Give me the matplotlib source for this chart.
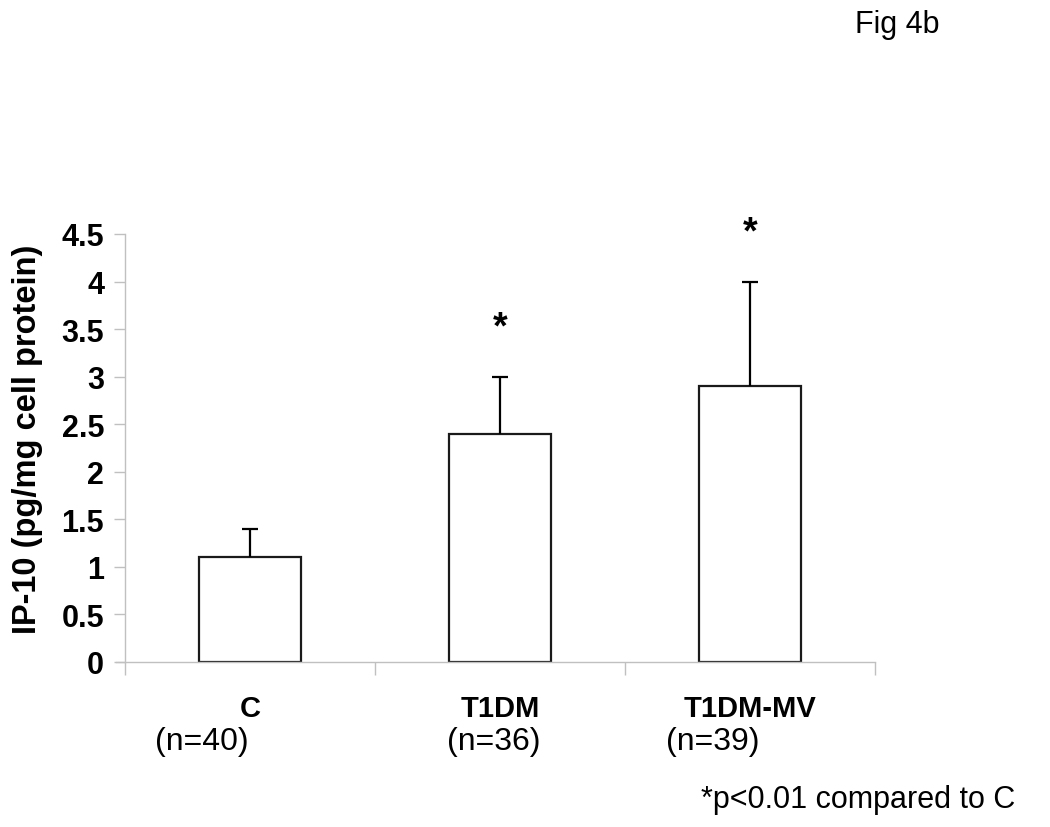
import numpy as np
import matplotlib
matplotlib.use("Agg")
import matplotlib.pyplot as plt

plt.rcParams["font.family"] = ["Liberation Sans", "DejaVu Sans"]

# data
groups = ["C", "T1DM", "T1DM-MV"]
n_labels = ["(n=40)", "(n=36)", "(n=39)"]
means = [1.1, 2.4, 2.9]
errs = [0.3, 0.6, 1.1]
signif = ["", "*", "*"]
y_ticks = [0, 0.5, 1, 1.5, 2, 2.5, 3, 3.5, 4, 4.5]

fig = plt.figure(figsize=(10.5, 8.28), dpi=100)
ax = fig.add_axes([125 / 1050, 1 - 663 / 828, 750 / 1050, 428 / 828])

x = np.arange(len(groups)) + 0.5
ax.bar(x, means, width=0.41, color="white", edgecolor="#1a1a1a", linewidth=1.6, zorder=2)
eb = ax.errorbar(x, means, yerr=[np.zeros(len(errs)), errs], fmt="none",
                 ecolor="black", elinewidth=1.6, capsize=6, capthick=1.6, zorder=3)
eb[1][0].set_visible(False)  # only the upper cap

for xi, m, e, s in zip(x, means, errs, signif):
    if s:
        ax.text(xi, m + e + 0.52, s, ha="center", va="center",
                fontsize=27, fontweight="bold", clip_on=False)

ax.set_xlim(0, 3)
ax.set_ylim(0, 4.5)
ax.set_yticks(y_ticks)
ax.set_yticklabels(["%g" % t for t in y_ticks], fontsize=22, fontweight="bold")
ax.tick_params(axis="y", length=8, width=1, color="#c0c0c0", pad=7)

ax.set_xticks([0, 1, 2, 3])
ax.set_xticklabels([])
ax.tick_params(axis="x", which="major", length=9, width=1, color="#c0c0c0")
ax.set_xticks(x, minor=True)
ax.set_xticklabels(groups, minor=True, fontsize=21, fontweight="bold")
ax.tick_params(axis="x", which="minor", length=0, pad=23)

# sample sizes under the group names
n_x = [0.308, 1.476, 2.352]
for xi, lab in zip(n_x, n_labels):
    ax.text(xi, -0.185, lab, transform=ax.get_xaxis_transform(),
            ha="center", va="center", fontsize=23)

for side in ["top", "right"]:
    ax.spines[side].set_visible(False)
for side in ["left", "bottom"]:
    ax.spines[side].set_color("#c0c0c0")
    ax.spines[side].set_linewidth(1)
ax.spines["bottom"].set_bounds(-0.035, 3)

ax.set_ylabel("IP-10 (pg/mg cell protein)", fontsize=23.5, fontweight="bold")
ax.yaxis.set_label_coords(-0.109, 0.523)

fig.text(855 / 1050, 1 - 25 / 828, "Fig 4b", fontsize=22, ha="left", va="center")
fig.text(1015 / 1050, 1 - 800 / 828, "*p<0.01 compared to C", fontsize=22, ha="right", va="center")

fig.savefig("out.png", dpi=100)
